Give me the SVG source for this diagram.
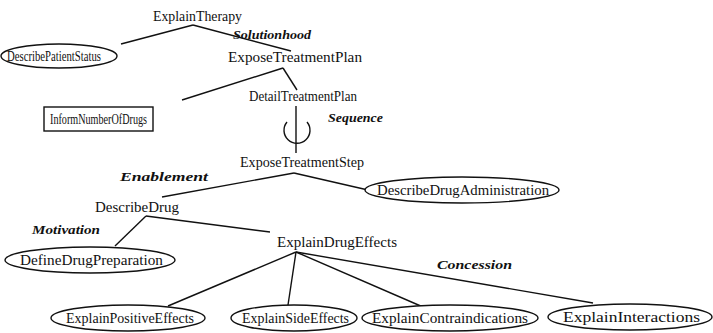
<svg xmlns="http://www.w3.org/2000/svg" width="713" height="333" viewBox="0 0 713 333">
<style>
text{font-family:"Liberation Serif","DejaVu Serif",serif;font-size:14px;fill:#111}
.rel{font-style:italic;font-weight:bold;font-size:13px}
.shape{fill:#fff;stroke:#111;stroke-width:1.4}
#connectors line,#connectors path{stroke:#111;stroke-width:1.4;fill:none}
</style>
<rect width="713" height="333" fill="#fff"/>
<g id="connectors">
<line x1="193" y1="25" x2="121" y2="44"/>
<line x1="193" y1="25" x2="291" y2="51"/>
<line x1="283" y1="68" x2="182" y2="100"/>
<line x1="283" y1="68" x2="297" y2="90"/>
<line x1="296" y1="106" x2="296" y2="153"/>
<path d="M287 122 A13 13 0 1 0 307 122"/>
<line x1="294" y1="173" x2="162" y2="197"/>
<line x1="294" y1="173" x2="368" y2="190"/>
<line x1="146" y1="216" x2="115" y2="246"/>
<line x1="146" y1="216" x2="270" y2="232"/>
<line x1="296" y1="252" x2="168" y2="306"/>
<line x1="296" y1="252" x2="288" y2="305"/>
<line x1="296" y1="252" x2="423" y2="307"/>
<line x1="296" y1="252" x2="593" y2="303"/>
</g>
<g id="labels">
<text class="rel" x="233" y="39" textLength="78" lengthAdjust="spacingAndGlyphs">Solutionhood</text>
<text class="rel" x="328" y="122" textLength="55" lengthAdjust="spacingAndGlyphs">Sequence</text>
<text class="rel" x="120" y="181" textLength="88" lengthAdjust="spacingAndGlyphs">Enablement</text>
<text class="rel" x="32" y="234" textLength="68" lengthAdjust="spacingAndGlyphs">Motivation</text>
<text class="rel" x="437" y="269" textLength="75" lengthAdjust="spacingAndGlyphs">Concession</text>
</g>
<g id="ExplainTherapy"><text x="153" y="21" textLength="89" lengthAdjust="spacingAndGlyphs">ExplainTherapy</text></g>
<g id="DescribePatientStatus"><ellipse class="shape" cx="59" cy="56" rx="58" ry="12"/><text x="7" y="61" textLength="94" lengthAdjust="spacingAndGlyphs">DescribePatientStatus</text></g>
<g id="ExposeTreatmentPlan"><text x="228" y="62" textLength="134" lengthAdjust="spacingAndGlyphs">ExposeTreatmentPlan</text></g>
<g id="InformNumberOfDrugs"><rect class="shape" x="44" y="107" width="109" height="24"/><text x="50" y="124" textLength="97" lengthAdjust="spacingAndGlyphs">InformNumberOfDrugs</text></g>
<g id="DetailTreatmentPlan"><text x="249" y="101" textLength="108" lengthAdjust="spacingAndGlyphs">DetailTreatmentPlan</text></g>
<g id="ExposeTreatmentStep"><text x="240" y="167" textLength="124" lengthAdjust="spacingAndGlyphs">ExposeTreatmentStep</text></g>
<g id="DescribeDrugAdministration"><ellipse class="shape" cx="462" cy="190" rx="97" ry="13"/><text x="377" y="195" textLength="172" lengthAdjust="spacingAndGlyphs">DescribeDrugAdministration</text></g>
<g id="DescribeDrug"><text x="95" y="212" textLength="84" lengthAdjust="spacingAndGlyphs">DescribeDrug</text></g>
<g id="DefineDrugPreparation"><ellipse class="shape" cx="90" cy="260" rx="85" ry="13"/><text x="20" y="265" textLength="143" lengthAdjust="spacingAndGlyphs">DefineDrugPreparation</text></g>
<g id="ExplainDrugEffects"><text x="277" y="247" textLength="120" lengthAdjust="spacingAndGlyphs">ExplainDrugEffects</text></g>
<g id="ExplainPositiveEffects"><ellipse class="shape" cx="128" cy="318" rx="77" ry="13"/><text x="66" y="323" textLength="128" lengthAdjust="spacingAndGlyphs">ExplainPositiveEffects</text></g>
<g id="ExplainSideEffects"><ellipse class="shape" cx="294" cy="318" rx="63" ry="13"/><text x="242" y="323" textLength="107" lengthAdjust="spacingAndGlyphs">ExplainSideEffects</text></g>
<g id="ExplainContraindications"><ellipse class="shape" cx="450" cy="318" rx="88" ry="13"/><text x="372" y="323" textLength="156" lengthAdjust="spacingAndGlyphs">ExplainContraindications</text></g>
<g id="ExplainInteractions"><ellipse class="shape" cx="630" cy="317" rx="82" ry="13"/><text x="563" y="322" textLength="137" lengthAdjust="spacingAndGlyphs">ExplainInteractions</text></g>
</svg>
